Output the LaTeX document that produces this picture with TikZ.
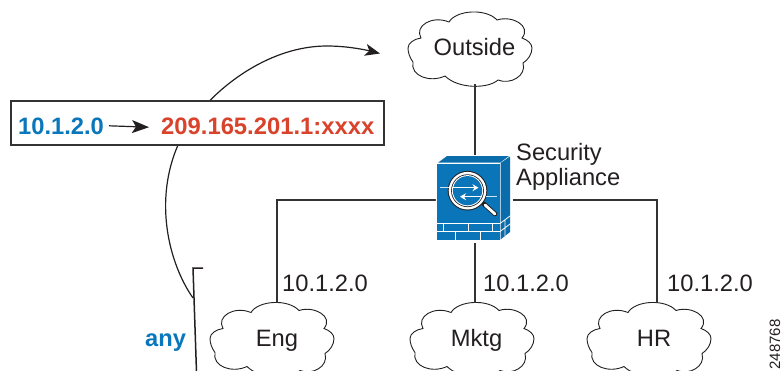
\documentclass[tikz,border=0pt]{standalone}
\usepackage{fontspec}
\setmainfont{Liberation Sans}
\usetikzlibrary{arrows.meta}
\definecolor{ciscoblue}{HTML}{0A77BC}
\definecolor{iconblue}{HTML}{0A75B8}
\definecolor{icondark}{HTML}{0A6CAB}
\definecolor{natred}{HTML}{D9432B}
\definecolor{ink}{HTML}{333333}
\definecolor{textink}{HTML}{231F20}
\tikzset{
  lab/.style={font=\fontsize{23.7}{24}\selectfont,text=textink,inner sep=0pt,anchor=base west},
  bluelab/.style={font=\fontsize{23.7}{24}\selectfont\bfseries,text=ciscoblue,inner sep=0pt,anchor=base west},
  redlab/.style={font=\fontsize{23.8}{24}\selectfont\bfseries,text=natred,inner sep=0pt,anchor=base west},
  cloudtxt/.style={font=\fontsize{23.7}{24}\selectfont,text=textink,inner sep=0pt,minimum width=110pt,minimum height=68pt,text height=17pt,text depth=0pt},
  link/.style={draw=ink,line width=1.9pt},
  thin line/.style={draw=textink,line width=1.2pt},
  brick/.style={draw=white,line width=1pt},
  pics/cloudshape/.style={code={
    \draw[draw=textink,line width=0.9pt,fill=white]
      (-62,0) .. controls (-62,-5) and (-56,-9) .. (-49,-10)
      .. controls (-56,-22) and (-38,-33) .. (-21,-26)
      .. controls (-14,-38) and (16,-40) .. (27,-28)
      .. controls (42,-33) and (62,-22) .. (52,-10)
      .. controls (58,-8) and (62,-4) .. (62,0)
      .. controls (62,6) and (58,12) .. (53,15)
      .. controls (57,28) and (40,37) .. (28,32)
      .. controls (18,41) and (-12,41) .. (-25,28)
      .. controls (-40,35) and (-60,28) .. (-57,14)
      .. controls (-60,10) and (-62,5) .. (-62,0) -- cycle;
  }}
}
\begin{document}
\begin{tikzpicture}[x=1pt,y=-1pt]
\useasboundingbox (0,0) rectangle (783,370);
% clouds
\pic at (470,48) {cloudshape};
\pic at (272,338.5) {cloudshape};
\pic at (472,338.5) {cloudshape};
\pic at (649,338.5) {cloudshape};
\node[cloudtxt] (outside) at (475,47) {\hspace*{-1pt}Outside};
\node[cloudtxt] (eng) at (277,337.5) {Eng};
\node[cloudtxt] (mktg) at (475,337.5) {\hspace*{3pt}Mktg};
\node[cloudtxt] (hr) at (657,337.5) {\hspace*{-6pt}HR};
% appliance anchor
\node[inner sep=0pt,minimum width=75pt,minimum height=86pt] (fw) at (475,200) {};
% connectors
\draw[link] (outside.south) ++(0,3) -- (fw.north);
\draw[link] (fw.south) -- (mktg.north);
\draw[link] (fw.west) -| (eng.north);
\draw[link] (fw.east) -| (hr.north);
% appliance icon
\fill[white] (435.8,162.5) -- (446.5,155) -- (511,155) -- (511,232.5) -- (500,241) -- (435.8,241) -- cycle;
\fill[iconblue] (437,163.5) rectangle (499.5,240);
\fill[icondark] (438,162.7) -- (447,156) -- (509,156) -- (500,162.7) -- cycle;
\fill[icondark] (500.5,163) -- (510,156.5) -- (510,232) -- (500.5,239.5) -- cycle;
\draw[brick] (437,223.5) -- (500,223.5) (437,231.5) -- (500,231.5);
\draw[brick] (443,223.5) -- (443,231.5) (468,223.5) -- (468,231.5) (492.5,223.5) -- (492.5,231.5);
\draw[brick] (455,231.5) -- (455,240) (480,231.5) -- (480,240);
\draw[brick,line width=0.8pt] (500,231.5) -- (510,224) (500,223.5) -- (510,216) (505,220) -- (505,228) (505,228) -- (505,236);
\draw[line cap=round,line width=4.6pt,textink] (484,204) -- (495,214);
\draw[line cap=round,line width=2.8pt,white] (485,205) -- (495,214);
\fill[textink] (467.5,190.7) circle (19.8);
\fill[white] (467.5,190.7) circle (18.8);
\fill[textink] (467.5,190.7) circle (16.4);
\fill[white] (467.5,190.7) circle (15.6);
\fill[iconblue] (467.5,190.7) circle (14.6);
\draw[white!80!iconblue,line width=1.1pt] (440,187.7) -- (449,187.7);
\draw[white,line width=1.3pt,-{Stealth[length=6pt,width=7pt]}] (452,187.7) -- (478.5,187.7);
\draw[white!80!iconblue,line width=1.1pt] (486,196.7) -- (497,196.7);
\draw[white,line width=1.3pt,-{Stealth[length=6pt,width=7pt]}] (482,196.7) -- (460,196.7);
% curve
\coordinate (curvestart) at (193,298);
\coordinate (curvemid) at (178,145);
\coordinate (curvetop) at (327,46);
\coordinate (curveend) at (380,53.5);
\draw[thin line,-{Stealth[length=15pt,width=12pt,inset=4pt]}] (curvestart)
  .. controls (168,262) and (154,200) .. (curvemid)
  .. controls (196,104) and (258,46) .. (curvetop)
  .. controls (345,46) and (362,49) .. (curveend);
% NAT box
\node[draw=ink,line width=1.7pt,fill=white,minimum width=373pt,minimum height=44pt,inner sep=0pt] (natbox) at (197.5,123) {};
\node[bluelab] (natsrc) at (18,134) {10.1.2.0};
\node[redlab] (natdst) at (161,134) {209.165.201.1:xxxx};
\coordinate (natfrom) at (109,125.8);
\coordinate (natto) at (149,127.2);
\draw[thin line,-{Stealth[length=17pt,width=13pt,inset=4pt]}] (natfrom) -- (natto);
% labels
\node[lab] (sec1) at (516,160) {Security};
\node[lab] (sec2) at (516,185) {Appliance};
\node[lab] (n1) at (282,291) {10.1.2.0};
\node[lab] (n2) at (483,291) {10.1.2.0};
\node[lab] (n3) at (667,291) {10.1.2.0};
\node[bluelab] (any) at (145,346) {any};
% bracket
\coordinate (bracketa) at (203,268);
\coordinate (bracketb) at (193,268);
\coordinate (bracketc) at (196.5,372);
\draw[thin line,line width=1.5pt] (bracketa) -- (bracketb) -- (bracketc);
% figure number
\node[font=\fontsize{15}{15}\selectfont,text=textink,rotate=90,inner sep=0pt] (fignum) at (775,344.5) {248768};
\end{tikzpicture}
\end{document}
